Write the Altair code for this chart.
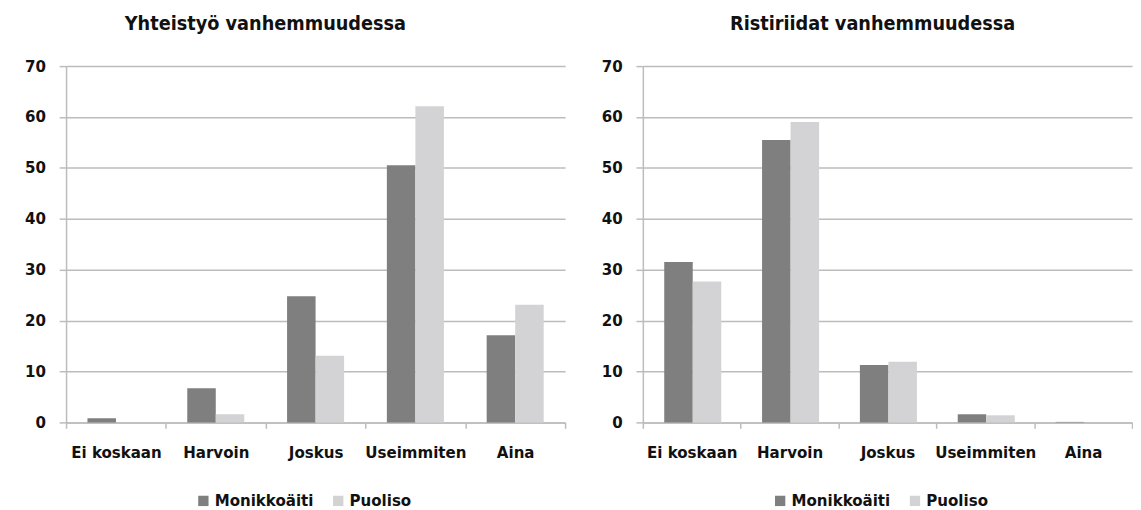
import altair as alt
import pandas as pd

categories = ["Ei koskaan", "Harvoin", "Joskus", "Useimmiten", "Aina"]
series = ["Monikkoäiti", "Puoliso"]
yht_monikko = [0.8, 6.7, 24.8, 50.5, 17.1]
yht_puoliso = [0.0, 1.6, 13.1, 62.1, 23.1]
ris_monikko = [31.5, 55.5, 11.3, 1.6, 0.1]
ris_puoliso = [27.7, 59.0, 11.9, 1.4, 0.0]
titles = ["Yhteistyö vanhemmuudessa", "Ristiriidat vanhemmuudessa"]
y_ticks = [0, 10, 20, 30, 40, 50, 60, 70]
colors = ["#7f7f7f", "#d3d3d5"]

FONT = "DejaVu Sans Condensed, Liberation Sans Narrow, sans-serif"
GRID = "#bcbcbc"
TXT = "#111111"


def make_df(m, p):
    rows = []
    for c, a, b in zip(categories, m, p):
        rows.append({"cat": c, "series": series[0], "value": a})
        rows.append({"cat": c, "series": series[1], "value": b})
    return pd.DataFrame(rows)


def panel(df, title, width, dx):
    return (
        alt.Chart(df)
        .mark_bar()
        .encode(
            x=alt.X(
                "cat:N",
                sort=categories,
                title=None,
                scale=alt.Scale(paddingInner=0, paddingOuter=0),
                axis=alt.Axis(
                    labelAngle=0,
                    labelFontSize=17,
                    labelFontWeight="bold",
                    labelColor=TXT,
                    labelPadding=17,
                    tickBand="extent",
                    tickColor=GRID,
                    tickWidth=1.5,
                    tickSize=6,
                    domainColor=GRID,
                    domainWidth=1.5,
                    grid=False,
                ),
            ),
            xOffset=alt.XOffset(
                "series:N", sort=series, scale=alt.Scale(paddingInner=0, paddingOuter=0.75)
            ),
            y=alt.Y(
                "value:Q",
                title=None,
                scale=alt.Scale(domain=[0, 70]),
                axis=alt.Axis(
                    values=y_ticks,
                    labelFontSize=17,
                    labelFontWeight="bold",
                    labelColor=TXT,
                    labelPadding=14,
                    tickColor=GRID,
                    tickWidth=1.5,
                    tickSize=7,
                    domainColor=GRID,
                    domainWidth=1.5,
                    grid=True,
                    gridColor=GRID,
                    gridWidth=1.5,
                ),
            ),
            color=alt.Color(
                "series:N",
                sort=series,
                scale=alt.Scale(domain=series, range=colors),
                legend=alt.Legend(
                    title=None,
                    orient="none",
                    legendX=131,
                    legendY=433,
                    direction="horizontal",
                    symbolType="square",
                    symbolSize=110,
                    symbolStrokeWidth=0,
                    labelFontSize=17,
                    labelFontWeight="bold",
                    labelColor=TXT,
                    labelOffset=3,
                    columnPadding=16,
                ),
            ),
        )
        .properties(
            width=width,
            height=362,
            title=alt.TitleParams(
                title,
                fontSize=20,
                fontWeight="bold",
                color=TXT,
                anchor="middle",
                frame="group",
                dx=dx,
                offset=24,
            ),
        )
    )


left = panel(make_df(yht_monikko, yht_puoliso), titles[0], 507, -51)
right = panel(make_df(ris_monikko, ris_puoliso), titles[1], 497, -15)

chart = (
    alt.hconcat(left, right, spacing=35)
    .resolve_scale(color="independent")
    .properties(padding={"left": 16, "top": 2, "right": 0, "bottom": 0})
    .configure(font=FONT)
    .configure_view(stroke=None)
)

chart.save("out.html", embed_options={"renderer": "svg", "actions": False})
